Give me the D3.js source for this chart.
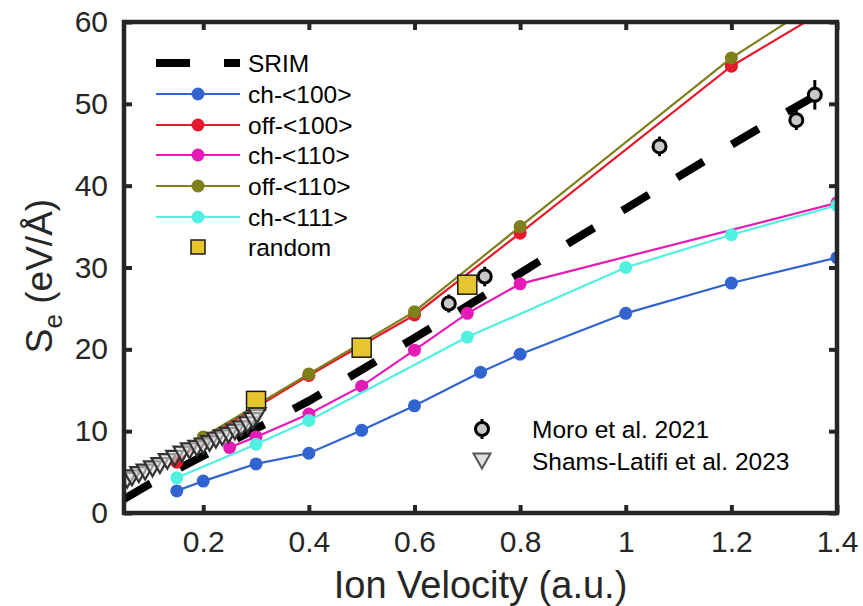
<!DOCTYPE html>
<html><head><meta charset="utf-8">
<script src="https://cdn.jsdelivr.net/npm/d3@7"></script>
<style>
html,body{margin:0;padding:0;background:#fff;}
text{font-family:"Liberation Sans",Arial,Helvetica,sans-serif;}
</style></head>
<body><svg id="c" width="863" height="606"></svg>
<script>
// ---------- data ----------
const xTicks = [0.2, 0.4, 0.6, 0.8, 1, 1.2, 1.4];
const yTicks = [0, 10, 20, 30, 40, 50, 60];

const srimX = [0.05, 0.1, 0.2, 0.3, 0.4, 0.5, 0.6, 0.7, 0.8, 0.9, 1.0, 1.1, 1.2, 1.3, 1.4];
const srimY = [1.7, 3.6, 7.0, 10.3, 13.7, 17.5, 21.4, 25.3, 29.3, 33.3, 37.2, 41.1, 45.0, 48.8, 52.5];

const ch100X = [0.15, 0.2, 0.3, 0.4, 0.5, 0.6, 0.725, 0.8, 1.0, 1.2, 1.4];
const ch100Y = [2.7, 3.9, 6.0, 7.3, 10.1, 13.1, 17.2, 19.4, 24.4, 28.1, 31.2];

const off100X = [0.15, 0.2, 0.4, 0.6, 0.8, 1.2, 1.4];
const off100Y = [6.2, 9.0, 16.8, 24.2, 34.2, 54.6, 62.3];

const ch110X = [0.25, 0.3, 0.4, 0.5, 0.6, 0.7, 0.8, 1.4];
const ch110Y = [8.0, 9.3, 12.1, 15.5, 19.9, 24.4, 28.0, 37.9];

const off110X = [0.2, 0.4, 0.6, 0.8, 1.2, 1.4];
const off110Y = [9.3, 17.0, 24.6, 35.0, 55.6, 63.9];

const ch111X = [0.15, 0.3, 0.4, 0.7, 1.0, 1.2, 1.4];
const ch111Y = [4.3, 8.4, 11.3, 21.5, 30.0, 34.0, 37.6];

const randomX = [0.3, 0.5, 0.7];
const randomY = [13.7, 20.2, 27.9];

const moroX = [0.665, 0.733, 1.064, 1.323, 1.358];
const moroY = [25.6, 28.9, 44.8, 48.0, 51.1];
const moroErr = [1.1, 1.2, 1.2, 1.2, 1.8];

const shamsX = [0.056, 0.065, 0.078, 0.09, 0.104, 0.118, 0.132, 0.146, 0.16, 0.174, 0.188, 0.2, 0.212, 0.224, 0.236, 0.248, 0.26, 0.272, 0.284, 0.294, 0.302];
const shamsY = [4.0, 4.3, 4.7, 5.0, 5.4, 5.8, 6.3, 6.7, 7.2, 7.6, 7.9, 8.2, 8.5, 8.9, 9.2, 9.5, 9.9, 10.3, 10.8, 11.3, 11.9];

const seriesNames = ["ch-<100>", "off-<100>", "ch-<110>", "off-<110>", "ch-<111>"];
const seriesColors = ["#3163d1", "#e5192c", "#e61ab6", "#7f7f1b", "#52f0e0"];

// ---------- layout ----------
const svg = d3.select("#c");
const L = 124, R = 837, T = 22, B = 513;
const x = d3.scaleLinear().domain([0.05, 1.4]).range([L, R]);
const y = d3.scaleLinear().domain([0, 60]).range([B, T]);
const axisCol = "#262626";

svg.append("defs").append("clipPath").attr("id", "clip")
  .append("rect").attr("x", L).attr("y", T).attr("width", R - L).attr("height", B - T);

const plot = svg.append("g").attr("clip-path", "url(#clip)");
const line = d3.line().x(d => x(d[0])).y(d => y(d[1]));
const zip = (a, b) => a.map((v, i) => [v, b[i]]);

// SRIM
plot.append("path").datum(zip(srimX, srimY)).attr("d", line)
  .attr("fill", "none").attr("stroke", "#000").attr("stroke-width", 8)
  .attr("stroke-dasharray", "31,33");

// series
const seriesData = [zip(ch100X, ch100Y), zip(off100X, off100Y), zip(ch110X, ch110Y), zip(off110X, off110Y), zip(ch111X, ch111Y)];
const order = [1, 3, 0, 2, 4];
order.forEach(i => {
  const g = plot.append("g");
  g.append("path").datum(seriesData[i]).attr("d", line).attr("fill", "none")
    .attr("stroke", seriesColors[i]).attr("stroke-width", 2.2);
  g.selectAll("circle").data(seriesData[i]).join("circle")
    .attr("cx", d => x(d[0])).attr("cy", d => y(d[1])).attr("r", 6.5)
    .attr("fill", seriesColors[i]);
});

// random squares
const sq = 19;
plot.selectAll("rect.rand").data(zip(randomX, randomY)).join("rect").attr("class", "rand")
  .attr("x", d => x(d[0]) - sq / 2).attr("y", d => y(d[1]) - sq / 2)
  .attr("width", sq).attr("height", sq).attr("fill", "#e5c530")
  .attr("stroke", "#1a1a1a").attr("stroke-width", 1.5);

// Moro
const moro = zip(moroX, moroY).map((d, i) => [d[0], d[1], moroErr[i]]);
plot.selectAll("line.err").data(moro).join("line").attr("class", "err")
  .attr("x1", d => x(d[0])).attr("x2", d => x(d[0]))
  .attr("y1", d => y(d[1] - d[2])).attr("y2", d => y(d[1] + d[2]))
  .attr("stroke", "#000").attr("stroke-width", 3);
plot.selectAll("circle.moro").data(moro).join("circle").attr("class", "moro")
  .attr("cx", d => x(d[0])).attr("cy", d => y(d[1])).attr("r", 6.5)
  .attr("fill", "#c8c8c8").attr("stroke", "#000").attr("stroke-width", 3);

// Shams triangles
const tri = (cx, cy, s) => {
  const h = s * 0.87;
  return `M${cx - s / 2},${cy - h / 2}L${cx + s / 2},${cy - h / 2}L${cx},${cy + h / 2}Z`;
};
plot.selectAll("path.tri").data(zip(shamsX, shamsY)).join("path").attr("class", "tri")
  .attr("d", d => tri(x(d[0]), y(d[1]), 17))
  .attr("fill", "#e0e0e0").attr("fill-opacity", 0.6)
  .attr("stroke", "#333").attr("stroke-width", 2.2);

// ---------- axes ----------
const fs = 30;
const gx = svg.append("g").attr("transform", `translate(0,${B})`)
  .call(d3.axisBottom(x).tickValues(xTicks).tickSizeInner(-8).tickSizeOuter(0).tickPadding(18).tickFormat(d3.format("~g")));
const gxt = svg.append("g").attr("transform", `translate(0,${T})`)
  .call(d3.axisTop(x).tickValues(xTicks).tickSizeInner(-8).tickSizeOuter(0).tickFormat(""));
const gy = svg.append("g").attr("transform", `translate(${L},0)`)
  .call(d3.axisLeft(y).tickValues(yTicks).tickSizeInner(-8).tickSizeOuter(0).tickPadding(16));
const gyr = svg.append("g").attr("transform", `translate(${R},0)`)
  .call(d3.axisRight(y).tickValues(yTicks).tickSizeInner(-8).tickSizeOuter(0).tickFormat(""));
[gx, gxt, gy, gyr].forEach(g => {
  g.select(".domain").remove();
  g.selectAll(".tick line").attr("stroke", axisCol).attr("stroke-width", 4);
  g.selectAll(".tick text").attr("fill", axisCol).style("font-size", fs + "px")
    .style("font-family", '"Liberation Sans", Arial, sans-serif');
});
svg.append("rect").attr("x", L).attr("y", T).attr("width", R - L).attr("height", B - T)
  .attr("fill", "none").attr("stroke", axisCol).attr("stroke-width", 4.5);

// titles
svg.append("text").attr("x", (L + R) / 2).attr("y", 598).attr("text-anchor", "middle")
  .attr("fill", axisCol).style("font-size", "38px").text("Ion Velocity (a.u.)");
const yl = svg.append("text").attr("transform", "translate(52,276) rotate(-90)")
  .attr("text-anchor", "middle").attr("fill", axisCol).style("font-size", "37px");
yl.append("tspan").text("S");
yl.append("tspan").attr("dy", 10).style("font-size", "26px").text("e");
yl.append("tspan").attr("dy", -10).text(" (eV/Å)");

// ---------- legend 1 ----------
const lg = svg.append("g");
const lx0 = 156, lx1 = 240, lmx = 198, ltx = 248;
const rowY = [63, 94, 125, 155, 186, 217, 247];
const lfs = "24.5px";
lg.append("line").attr("x1", lx0).attr("x2", lx1).attr("y1", rowY[0]).attr("y2", rowY[0])
  .attr("stroke", "#000").attr("stroke-width", 8).attr("stroke-dasharray", "34,34");
lg.append("text").attr("x", ltx).attr("y", rowY[0]).attr("dy", "0.35em").style("font-size", lfs).text("SRIM");
seriesNames.forEach((n, i) => {
  const yy = rowY[i + 1];
  lg.append("line").attr("x1", lx0).attr("x2", lx1).attr("y1", yy).attr("y2", yy)
    .attr("stroke", seriesColors[i]).attr("stroke-width", 2.2);
  lg.append("circle").attr("cx", lmx).attr("cy", yy).attr("r", 6.5).attr("fill", seriesColors[i]);
  lg.append("text").attr("x", ltx).attr("y", yy).attr("dy", "0.35em").style("font-size", lfs).text(n);
});
lg.append("rect").attr("x", lmx - 7).attr("y", rowY[6] - 7).attr("width", 14).attr("height", 14)
  .attr("fill", "#e5c530").attr("stroke", "#1a1a1a").attr("stroke-width", 1.5);
lg.append("text").attr("x", ltx).attr("y", rowY[6]).attr("dy", "0.35em").style("font-size", lfs).text("random");

// ---------- legend 2 ----------
const l2 = svg.append("g");
const mx = 482, tx2 = 532, my1 = 429, my2 = 461;
l2.append("line").attr("x1", mx).attr("x2", mx).attr("y1", my1 - 10).attr("y2", my1 + 10)
  .attr("stroke", "#000").attr("stroke-width", 3);
l2.append("circle").attr("cx", mx).attr("cy", my1).attr("r", 6.5).attr("fill", "#c8c8c8")
  .attr("stroke", "#000").attr("stroke-width", 3);
l2.append("text").attr("x", tx2).attr("y", my1).attr("dy", "0.35em").style("font-size", lfs).text("Moro et al. 2021");
l2.append("path").attr("d", tri(mx, my2, 17)).attr("fill", "#e0e0e0")
  .attr("stroke", "#555").attr("stroke-width", 2);
l2.append("text").attr("x", tx2).attr("y", my2).attr("dy", "0.35em").style("font-size", lfs).text("Shams-Latifi et al. 2023");
</script></body></html>
